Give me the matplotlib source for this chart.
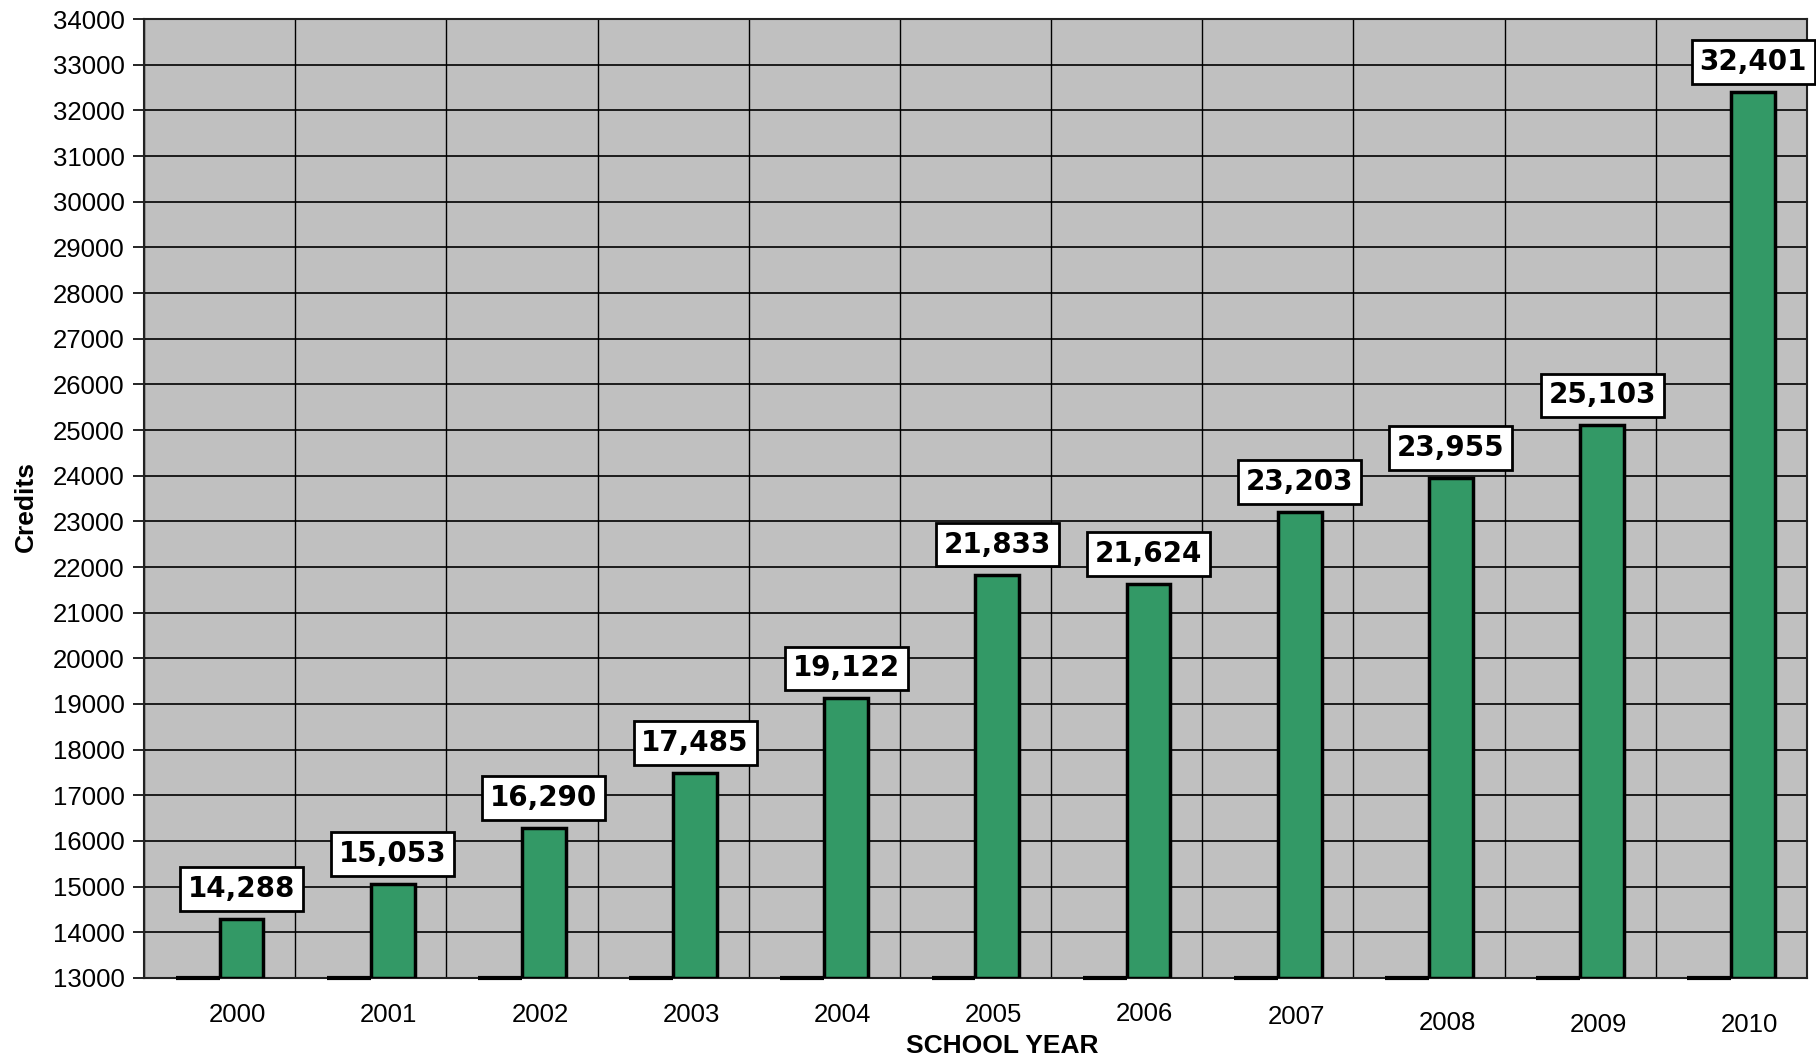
import numpy as np
import matplotlib
matplotlib.use('Agg')
import matplotlib.pyplot as plt
from matplotlib.ticker import MultipleLocator

# Data
years = ['2000', '2001', '2002', '2003', '2004', '2005',
         '2006', '2007', '2008', '2009', '2010']
credits = [14288, 15053, 16290, 17485, 19122, 21833,
           21624, 23203, 23955, 25103, 32401]
other = [0, 0, 0, 0, 0, 0, 0, 0, 0, 0, 0]   # empty series, sits on the axis floor

y_min, y_max = 13000, 34000

plt.rcParams['font.family'] = ['Liberation Sans', 'DejaVu Sans']

fig = plt.figure(figsize=(18.16, 10.62), dpi=100, facecolor='w')
ax = fig.add_axes([0.0793, 0.0791, 0.9157, 0.9030])
ax.set_facecolor('#c0c0c0')

x = np.arange(len(years))
w = 0.29
green = '#339966'

# first series is zero -> clipped to the bottom of the axis
floor = np.clip(other, y_min, None) - y_min
ax.bar(x - w / 2, floor, width=w, bottom=y_min, color=green,
       edgecolor='black', linewidth=3, zorder=4, clip_on=False)
ax.bar(x + w / 2, np.array(credits) - y_min, width=w, bottom=y_min,
       color=green, edgecolor='black', linewidth=2.5, zorder=3)

for xi, v in zip(x, credits):
    ax.annotate(f'{v:,}', xy=(xi + w / 2, v), xytext=(0, 11.5),
                textcoords='offset points', ha='center', va='bottom',
                fontsize=20, fontweight='bold', family='DejaVu Sans',
                bbox=dict(boxstyle='square,pad=0.28', fc='white',
                          ec='black', lw=2), zorder=5)

ax.set_xlim(-0.5, len(years) - 0.5)
ax.set_ylim(y_min, y_max)
ax.yaxis.set_major_locator(MultipleLocator(1000))
ax.set_xticks(x + 0.12)
ax.set_xticklabels(years, fontsize=18.5)
ax.set_xticks(np.arange(len(years) + 1) - 0.5, minor=True)
ax.tick_params(axis='x', which='both', length=0, pad=18)
ax.tick_params(axis='y', length=8, width=1.2, labelsize=18.5, pad=6)

# small vertical drift of the year labels as seen in the original
label_drop = [0, 0, 0, 0, 0, 0, -1, 2, 8, 10, 10]
for lab, d in zip(ax.get_xticklabels(), label_drop):
    lab.set_y(lab.get_position()[1] - d / 959)

ax.grid(axis='y', which='major', color='black', lw=1.2, zorder=0)
ax.grid(axis='x', which='minor', color='black', lw=1.0, zorder=0)
ax.set_axisbelow(True)
for s in ax.spines.values():
    s.set_linewidth(1.5)
    s.set_color('#222222')

ax.set_xlabel('SCHOOL YEAR', fontsize=19, fontweight='bold')
ax.xaxis.set_label_coords(0.516, -0.058)
ax.set_ylabel('Credits', fontsize=19, fontweight='bold')
ax.yaxis.set_label_coords(-0.064, 0.492)

fig.savefig('out.png', dpi=100)
